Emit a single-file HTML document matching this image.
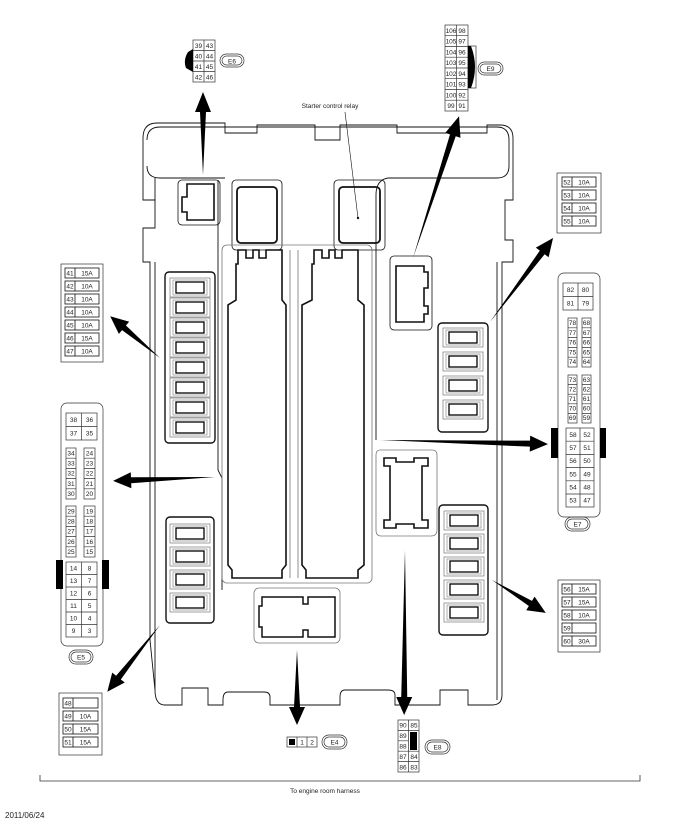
<!DOCTYPE html>
<html><head><meta charset="utf-8"><style>
html,body{margin:0;padding:0;background:#fff}
svg{display:block}
text{font-family:"Liberation Sans",sans-serif;font-size:6.5px;fill:#222;text-anchor:middle}
</style></head><body>
<svg width="687" height="833" viewBox="0 0 687 833" xmlns="http://www.w3.org/2000/svg">
<defs>
<g id="fuse">
<rect x="0" y="0" width="40" height="19" fill="none" stroke="#888" stroke-width="0.8"/>
<rect x="3" y="2" width="34" height="15" fill="none" stroke="#999" stroke-width="0.8"/>
<rect x="6" y="4" width="28" height="11" fill="#fff" stroke="#000" stroke-width="1.3"/>
</g>
<polygon id="ah" points="0,0 0,0"/>
</defs>

<!-- housing -->
<g fill="none" stroke="#111" stroke-width="0.9">
<path d="M143,138 Q143,123 157,123 L225,123 L225,133 L257,133 L257,125 L315,125 L315,140 L340,140 L340,125 L397,125 L397,133 L487,133 L487,125 L500,125 Q513,125 513,138 L513,200 L505,200 L505,240 L513,240 L513,262 L502,262 L502,695 Q502,705 492,705 L468,705 L468,690 L440,690 L440,705 L395,705 L395,695 Q395,690 388,690 L345,690 Q340,690 340,697 L340,705 L270,705 L270,697 Q270,692 264,692 L228,692 Q223,692 223,700 L223,705 L208,705 L208,688 L182,688 L182,705 L165,705 Q155,705 155,690 L150,640 L150,262 L143,262 L143,228 L155,228 L155,200 L143,200 Z"/>
<path d="M147,140 Q147,127 160,127 L497,127 Q509,127 509,140 L509,166 Q509,178 497,178 L388,178"/>
<path d="M147,166 Q147,178 160,178 L225,178"/>
<line x1="155" y1="178" x2="155" y2="200"/>
<path d="M218,180 L218,470 L222,478 L222,590"/>
<path d="M388,178 Q376,180 376,195 L376,440"/>
<line x1="155" y1="262" x2="155" y2="690"/>
<line x1="497" y1="262" x2="497" y2="700"/>
</g>

<!-- top-left small connector -->
<g fill="none" stroke="#111">
<rect x="178" y="180" width="42" height="45" rx="4" stroke-width="0.8"/>
<path d="M187,184 L214,184 L214,220 L187,220 L187,212 L182,212 L182,197 L187,197 Z" stroke-width="1.6"/>
</g>
<!-- relay boxes -->
<g fill="none" stroke="#111">
<rect x="232" y="180" width="50" height="70" rx="4" stroke-width="0.8"/>
<rect x="237" y="187" width="40" height="56" rx="4" stroke-width="1.8"/>
<rect x="334" y="180" width="51" height="70" rx="4" stroke-width="0.8"/>
<rect x="339" y="187" width="41" height="56" rx="4" stroke-width="1.8"/>
<!-- right connector -->
<rect x="390" y="256" width="42" height="74" rx="4" stroke-width="0.8"/>
<path d="M396,266 L424,266 L424,272 L428,272 L428,288 L424,288 L424,306 L428,306 L428,314 L424,314 L424,322 L396,322 Z" stroke-width="1.6"/>
</g>

<!-- central long relay slots -->
<g fill="none" stroke="#111">
<rect x="222" y="245" width="150" height="338" rx="5" stroke="#777" stroke-width="0.8"/>
<path d="M236,264 L238,264 L238,250 L246,250 L246,258 L253,258 L253,250 L259,250 L259,258 L266,258 L266,250 L282,250 L282,300 L286,305 L286,565 L282,570 L282,578 L232,578 L232,570 L228,565 L228,305 L236,300 Z" stroke-width="1.6"/>
<path d="M312,264 L314,264 L314,250 L322,250 L322,258 L329,258 L329,250 L335,250 L335,258 L342,258 L342,250 L358,250 L358,300 L364,305 L364,565 L358,570 L358,578 L306,578 L306,570 L302,565 L302,305 L312,300 Z" stroke-width="1.6"/>
<path d="M290,250 L290,578 M298,250 L298,578" stroke="#777" stroke-width="0.8"/>
</g>

<!-- I-shaped -->
<g fill="none" stroke="#111">
<path d="M380,450 L432,450 Q437,450 437,455 L437,530 Q437,536 431,536 L381,536 Q376,536 376,530 L376,455 Q376,450 380,450 Z" stroke="#777" stroke-width="0.8"/>
<path d="M384,458 L396,458 L396,462 L414,462 L414,458 L428,458 L428,466 L422,466 L422,520 L428,520 L428,528 L414,528 L414,524 L396,524 L396,528 L384,528 L384,520 L390,520 L390,466 L384,466 Z" stroke-width="1.6"/>
</g>

<!-- bottom connector E4 -->
<g fill="none" stroke="#111">
<rect x="254" y="588" width="86" height="55" rx="5" stroke="#777" stroke-width="0.8"/>
<path d="M262,597 L303,597 L303,604 L308,604 L308,597 L335,597 L335,637 L308,637 L308,630 L303,630 L303,637 L262,637 L262,627 L259,627 L259,606 L262,606 Z" stroke-width="1.5"/>
</g>

<!-- fuse blocks -->
<g>
<rect x="165" y="272" width="50" height="171" rx="4" fill="none" stroke="#111" stroke-width="1.4"/>
<use href="#fuse" x="170" y="278"/><use href="#fuse" x="170" y="298"/><use href="#fuse" x="170" y="318"/><use href="#fuse" x="170" y="338"/>
<use href="#fuse" x="170" y="358"/><use href="#fuse" x="170" y="378"/><use href="#fuse" x="170" y="398"/><use href="#fuse" x="170" y="418"/>

<rect x="166" y="517" width="48" height="106" rx="4" fill="none" stroke="#111" stroke-width="1.4"/>
<use href="#fuse" x="170" y="524"/><use href="#fuse" x="170" y="547"/><use href="#fuse" x="170" y="570"/><use href="#fuse" x="170" y="593"/>

<rect x="438" y="323" width="50" height="109" rx="4" fill="none" stroke="#111" stroke-width="1.4"/>
<use href="#fuse" x="443" y="328"/><use href="#fuse" x="443" y="352"/><use href="#fuse" x="443" y="376"/><use href="#fuse" x="443" y="400"/>

<rect x="439" y="505" width="49" height="130" rx="4" fill="none" stroke="#111" stroke-width="1.4"/>
<use href="#fuse" x="444" y="511"/><use href="#fuse" x="444" y="534"/><use href="#fuse" x="444" y="557"/><use href="#fuse" x="444" y="580"/><use href="#fuse" x="444" y="603"/>
</g>

<!-- starter relay label -->
<text x="330" y="108" style="text-anchor:middle">Starter control relay</text>
<line x1="345" y1="112" x2="358" y2="218" stroke="#111" stroke-width="0.6"/>
<circle cx="358" cy="218" r="1.2" fill="#111"/>

<!-- arrows -->
<g fill="#000">
<polygon transform="translate(203,175) rotate(-90)" points="0,0 63,-3 63,-8 83,0 63,8 63,3"/>
<polygon transform="translate(413,258) rotate(-72)" points="0,0 129,-3 129,-8 149,0 129,8 129,3"/>
<polygon transform="translate(160,358) rotate(-140)" points="0,0 47,-3 47,-8 65,0 47,8 47,3"/>
<polygon transform="translate(215,477) rotate(177.8)" points="0,0 84,-3 84,-8 102,0 84,8 84,3"/>
<polygon transform="translate(160,625) rotate(128.3)" points="0,0 67,-3 67,-8 85,0 67,8 67,3"/>
<polygon transform="translate(297,650) rotate(90)" points="0,0 57,-3 57,-8 75,0 57,8 57,3"/>
<polygon transform="translate(405,550) rotate(90.3)" points="0,0 147,-3 147,-8 165,0 147,8 147,3"/>
<polygon transform="translate(380,440) rotate(1.4)" points="0,0 150,-3 150,-8 168,0 150,8 150,3"/>
<polygon transform="translate(490,322) rotate(-53.1)" points="0,0 87,-3 87,-8 105,0 87,8 87,3"/>
<polygon transform="translate(492,580) rotate(31.4)" points="0,0 45,-3 45,-8 63,0 45,8 45,3"/>
</g>

<!-- E6 -->
<g fill="none" stroke="#333" stroke-width="0.7">
<rect x="193" y="40" width="22" height="42"/>
<line x1="204" y1="40" x2="204" y2="82"/>
<line x1="193" y1="50.5" x2="215" y2="50.5"/><line x1="193" y1="61" x2="215" y2="61"/><line x1="193" y1="71.5" x2="215" y2="71.5"/>
<rect x="220" y="54" width="24" height="13" rx="6.5"/><rect x="222" y="56" width="20" height="9" rx="4.5"/>
</g>
<path d="M193,49 L188,52 Q183,60 186,68 L193,72 Z" fill="#000"/>
<text x="198.5" y="48">39</text><text x="209.5" y="48">43</text>
<text x="198.5" y="58.5">40</text><text x="209.5" y="58.5">44</text>
<text x="198.5" y="69">41</text><text x="209.5" y="69">45</text>
<text x="198.5" y="79.5">42</text><text x="209.5" y="79.5">46</text>
<text x="232" y="63.5">E6</text>

<!-- E9 -->
<g fill="none" stroke="#333" stroke-width="0.7">
<rect x="445" y="25" width="23" height="86"/>
<line x1="456.5" y1="25" x2="456.5" y2="111"/>
<line x1="445" y1="35.7" x2="468" y2="35.7"/><line x1="445" y1="46.5" x2="468" y2="46.5"/><line x1="445" y1="57.2" x2="468" y2="57.2"/>
<line x1="445" y1="68" x2="468" y2="68"/><line x1="445" y1="78.7" x2="468" y2="78.7"/><line x1="445" y1="89.5" x2="468" y2="89.5"/><line x1="445" y1="100.2" x2="468" y2="100.2"/>
<rect x="468" y="46" width="8" height="42"/>
<rect x="478" y="62" width="25" height="13" rx="6.5"/><rect x="480" y="64" width="21" height="9" rx="4.5"/>
</g>
<path d="M468,46 L471,46 Q479,67 471,88 L468,88Z" fill="#000"/>
<g style="font-size:5.5px">
<text x="451" y="33">106</text><text x="462" y="33">98</text>
<text x="451" y="43.5">105</text><text x="462" y="43.5">97</text>
<text x="451" y="54.5">104</text><text x="462" y="54.5">96</text>
<text x="451" y="65">103</text><text x="462" y="65">95</text>
<text x="451" y="76">102</text><text x="462" y="76">94</text>
<text x="451" y="86.5">101</text><text x="462" y="86.5">93</text>
<text x="451" y="97.5">100</text><text x="462" y="97.5">92</text>
<text x="451" y="108">99</text><text x="462" y="108">91</text>
</g>
<text x="490.5" y="71">E9</text>

<!-- fuse tables -->
<g fill="none" stroke="#333" stroke-width="0.7">
<rect x="61" y="264" width="42" height="98"/>
<rect x="557" y="173" width="44" height="60"/>
<rect x="59" y="693" width="43" height="62"/>
<rect x="558" y="580" width="42" height="72"/>
</g>
<g fill="none" stroke="#111" stroke-width="0.8">
<!-- 41-47 -->
<rect x="65" y="268" width="34" height="10"/><rect x="65" y="281" width="34" height="10"/><rect x="65" y="294" width="34" height="10"/><rect x="65" y="307" width="34" height="10"/><rect x="65" y="320" width="34" height="10"/><rect x="65" y="333" width="34" height="10"/><rect x="65" y="346" width="34" height="10"/>
<path d="M75,268v10M75,281v10M75,294v10M75,307v10M75,320v10M75,333v10M75,346v10"/>
<!-- 52-55 -->
<rect x="562" y="177" width="34" height="10"/><rect x="562" y="190" width="34" height="10"/><rect x="562" y="203" width="34" height="10"/><rect x="562" y="216" width="34" height="10"/>
<path d="M572,177v10M572,190v10M572,203v10M572,216v10"/>
<!-- 48-51 -->
<rect x="63" y="698" width="35" height="10"/><rect x="63" y="711" width="35" height="10"/><rect x="63" y="724" width="35" height="10"/><rect x="63" y="737" width="35" height="10"/>
<path d="M73,698v10M73,711v10M73,724v10M73,737v10"/>
<!-- 56-60 -->
<rect x="562" y="584" width="34" height="10"/><rect x="562" y="597" width="34" height="10"/><rect x="562" y="610" width="34" height="10"/><rect x="562" y="623" width="34" height="10"/><rect x="562" y="636" width="34" height="10"/>
<path d="M572,584v10M572,597v10M572,610v10M572,623v10M572,636v10"/>
</g>
<g style="font-size:6px">
<text x="70" y="275.5">41</text><text x="87" y="275.5">15A</text>
<text x="70" y="288.5">42</text><text x="87" y="288.5">10A</text>
<text x="70" y="301.5">43</text><text x="87" y="301.5">10A</text>
<text x="70" y="314.5">44</text><text x="87" y="314.5">10A</text>
<text x="70" y="327.5">45</text><text x="87" y="327.5">10A</text>
<text x="70" y="340.5">46</text><text x="87" y="340.5">15A</text>
<text x="70" y="353.5">47</text><text x="87" y="353.5">10A</text>

<text x="567" y="184.5">52</text><text x="584" y="184.5">10A</text>
<text x="567" y="197.5">53</text><text x="584" y="197.5">10A</text>
<text x="567" y="210.5">54</text><text x="584" y="210.5">10A</text>
<text x="567" y="223.5">55</text><text x="584" y="223.5">10A</text>

<text x="68" y="705.5">48</text>
<text x="68" y="718.5">49</text><text x="85.5" y="718.5">10A</text>
<text x="68" y="731.5">50</text><text x="85.5" y="731.5">15A</text>
<text x="68" y="744.5">51</text><text x="85.5" y="744.5">15A</text>

<text x="567" y="591.5">56</text><text x="584" y="591.5">15A</text>
<text x="567" y="604.5">57</text><text x="584" y="604.5">15A</text>
<text x="567" y="617.5">58</text><text x="584" y="617.5">10A</text>
<text x="567" y="630.5">59</text>
<text x="567" y="643.5">60</text><text x="584" y="643.5">30A</text>
</g>

<!-- E5 connector -->
<g fill="none" stroke="#333" stroke-width="0.7">
<rect x="61" y="403" width="42" height="243" rx="6"/>
<rect x="66" y="413" width="31" height="27"/><line x1="81.5" y1="413" x2="81.5" y2="440"/><line x1="66" y1="426.5" x2="97" y2="426.5"/>
<rect x="66" y="448" width="10" height="51"/><rect x="84" y="448" width="11" height="51"/>
<path d="M66,458.2h10M66,468.4h10M66,478.6h10M66,488.8h10M84,458.2h11M84,468.4h11M84,478.6h11M84,488.8h11"/>
<rect x="66" y="506" width="10" height="51"/><rect x="84" y="506" width="11" height="51"/>
<path d="M66,516.2h10M66,526.4h10M66,536.6h10M66,546.8h10M84,516.2h11M84,526.4h11M84,536.6h11M84,546.8h11"/>
<rect x="66" y="562" width="31" height="75"/><line x1="81.5" y1="562" x2="81.5" y2="637"/>
<path d="M66,574.5h31M66,587h31M66,599.5h31M66,612h31M66,624.5h31"/>
<rect x="69" y="650" width="24" height="14" rx="7"/><rect x="71" y="652" width="20" height="10" rx="5"/>
</g>
<rect x="56" y="560" width="7" height="29" fill="#000"/><rect x="102" y="560" width="7" height="29" fill="#000"/>
<g style="font-size:6px">
<text x="73.5" y="422">38</text><text x="89.5" y="422">36</text>
<text x="73.5" y="435.5">37</text><text x="89.5" y="435.5">35</text>
<text x="71" y="455.5">34</text><text x="89.5" y="455.5">24</text>
<text x="71" y="465.5">33</text><text x="89.5" y="465.5">23</text>
<text x="71" y="475.5">32</text><text x="89.5" y="475.5">22</text>
<text x="71" y="486">31</text><text x="89.5" y="486">21</text>
<text x="71" y="496">30</text><text x="89.5" y="496">20</text>
<text x="71" y="513.5">29</text><text x="89.5" y="513.5">19</text>
<text x="71" y="523.5">28</text><text x="89.5" y="523.5">18</text>
<text x="71" y="533.5">27</text><text x="89.5" y="533.5">17</text>
<text x="71" y="544">26</text><text x="89.5" y="544">16</text>
<text x="71" y="554">25</text><text x="89.5" y="554">15</text>
<text x="73.5" y="570.5">14</text><text x="89.5" y="570.5">8</text>
<text x="73.5" y="583">13</text><text x="89.5" y="583">7</text>
<text x="73.5" y="595.5">12</text><text x="89.5" y="595.5">6</text>
<text x="73.5" y="608">11</text><text x="89.5" y="608">5</text>
<text x="73.5" y="620.5">10</text><text x="89.5" y="620.5">4</text>
<text x="73.5" y="633">9</text><text x="89.5" y="633">3</text>
<text x="81" y="659.5">E5</text>
</g>

<!-- E7 connector -->
<g fill="none" stroke="#333" stroke-width="0.7">
<rect x="558" y="273" width="42" height="244" rx="6"/>
<rect x="563" y="283" width="30" height="27"/><line x1="578" y1="283" x2="578" y2="310"/><line x1="563" y1="296.5" x2="593" y2="296.5"/>
<rect x="568" y="318" width="9" height="49"/><rect x="582" y="318" width="9" height="49"/>
<path d="M568,327.8h9M568,337.6h9M568,347.4h9M568,357.2h9M582,327.8h9M582,337.6h9M582,347.4h9M582,357.2h9"/>
<rect x="568" y="375" width="9" height="48"/><rect x="582" y="375" width="9" height="48"/>
<path d="M568,384.6h9M568,394.2h9M568,403.8h9M568,413.4h9M582,384.6h9M582,394.2h9M582,403.8h9M582,413.4h9"/>
<rect x="566" y="428" width="28" height="79"/><line x1="580" y1="428" x2="580" y2="507"/>
<path d="M566,441.2h28M566,454.4h28M566,467.6h28M566,480.8h28M566,494h28"/>
<rect x="565" y="517" width="25" height="14" rx="7"/><rect x="567" y="519" width="21" height="10" rx="5"/>
</g>
<rect x="551" y="428" width="7" height="30" fill="#000"/><rect x="600" y="428" width="6" height="30" fill="#000"/>
<g style="font-size:6px">
<text x="570.5" y="292">82</text><text x="585.5" y="292">80</text>
<text x="570.5" y="305.5">81</text><text x="585.5" y="305.5">79</text>
<text x="572.5" y="325">78</text><text x="586.5" y="325">68</text>
<text x="572.5" y="335">77</text><text x="586.5" y="335">67</text>
<text x="572.5" y="344.5">76</text><text x="586.5" y="344.5">66</text>
<text x="572.5" y="354.5">75</text><text x="586.5" y="354.5">65</text>
<text x="572.5" y="364">74</text><text x="586.5" y="364">64</text>
<text x="572.5" y="382">73</text><text x="586.5" y="382">63</text>
<text x="572.5" y="391.5">72</text><text x="586.5" y="391.5">62</text>
<text x="572.5" y="401">71</text><text x="586.5" y="401">61</text>
<text x="572.5" y="410.5">70</text><text x="586.5" y="410.5">60</text>
<text x="572.5" y="420">69</text><text x="586.5" y="420">59</text>
<text x="573" y="437">58</text><text x="587" y="437">52</text>
<text x="573" y="450">57</text><text x="587" y="450">51</text>
<text x="573" y="463">56</text><text x="587" y="463">50</text>
<text x="573" y="476.5">55</text><text x="587" y="476.5">49</text>
<text x="573" y="489.5">54</text><text x="587" y="489.5">48</text>
<text x="573" y="502.5">53</text><text x="587" y="502.5">47</text>
<text x="577.5" y="526.5">E7</text>
</g>

<!-- E4 -->
<g fill="none" stroke="#333" stroke-width="0.7">
<rect x="287" y="737" width="30" height="10"/><line x1="297" y1="737" x2="297" y2="747"/><line x1="307" y1="737" x2="307" y2="747"/>
<rect x="322" y="735" width="25" height="14" rx="7"/><rect x="324" y="737" width="21" height="10" rx="5"/>
</g>
<rect x="289" y="739" width="6" height="6" fill="#000"/>
<text x="302" y="744.5">1</text><text x="312" y="744.5">2</text>
<text x="334.5" y="744.5">E4</text>

<!-- E8 -->
<g fill="none" stroke="#333" stroke-width="0.7">
<rect x="398" y="720" width="21" height="52"/><line x1="408.5" y1="720" x2="408.5" y2="772"/>
<path d="M398,730.4h21M398,740.8h10.5M398,751.2h21M398,761.6h21"/>
<rect x="425" y="740" width="25" height="14" rx="7"/><rect x="427" y="742" width="21" height="10" rx="5"/>
</g>
<rect x="410" y="732" width="7" height="18" fill="#000"/>
<g style="font-size:5.8px">
<text x="403" y="727.5">90</text><text x="414" y="727.5">85</text>
<text x="403" y="738">89</text>
<text x="403" y="748.5">88</text>
<text x="403" y="759">87</text><text x="414" y="759">84</text>
<text x="403" y="769.5">86</text><text x="414" y="769.5">83</text>
</g>
<text x="437.5" y="749.5">E8</text>

<!-- bottom line -->
<path d="M40,775 L40,781 L640,781 L640,775" fill="none" stroke="#333" stroke-width="0.8"/>
<text x="325" y="793">To engine room harness</text>
<text x="5" y="818" style="text-anchor:start;font-size:8px">2011/06/24</text>
</svg>
</body></html>
